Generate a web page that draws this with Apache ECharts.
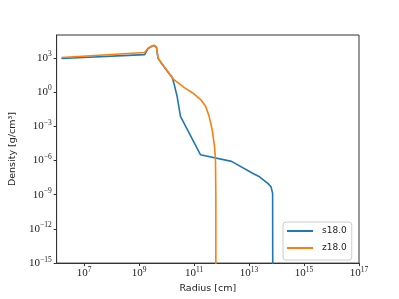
<!DOCTYPE html>
<html>
<head>
<meta charset="utf-8">
<script src="https://cdn.jsdelivr.net/npm/echarts@6/dist/echarts.min.js"></script>
<style>
  html, body { margin: 0; padding: 0; background: #fff; }
  #chart { width: 399px; height: 299px; }
</style>
</head>
<body>
<div id="chart"></div>
<script>
// radius [cm], density [g/cm^3]
const s18 = [
  [1.5e6, 8.7e2], [1.6e9, 1.9e3], [2.1e9, 6.3e3], [2.7e9, 9.3e3], [3.5e9, 1.2e4],
  [4.3e9, 7.9e3], [4.9e9, 8.9e2], [6.5e9, 3.3e2], [1.1e10, 6.0e1], [1.6e10, 1.9e1],
  [1.9e10, 4.6], [2.4e10, 4.5e-1], [3.2e10, 7.2e-3], [1.7e11, 3.2e-6], [2.3e12, 8.3e-7],
  [1.4e13, 7.2e-8], [2.4e13, 3.7e-8], [4.8e13, 9.8e-9], [6.3e13, 5.0e-9], [7.2e13, 1.3e-9],
  [7.3e13, 1e-18]
]
const z18 = [
  [1.5e6, 1.07e3], [1.6e9, 2.9e3], [2.1e9, 7.1e3], [2.7e9, 9.8e3], [3.5e9, 1.3e4],
  [4.3e9, 8.5e3], [4.9e9, 9.5e2], [6.5e9, 3.5e2], [1.1e10, 6.6e1], [1.8e10, 1.26e1],
  [4.4e10, 2.4], [8.7e10, 8.7e-1], [1.7e11, 2.3e-1], [2.6e11, 6.0e-2], [3.5e11, 8.1e-3],
  [4.5e11, 5.8e-4], [5.5e11, 2.0e-5], [6.0e11, 1.4e-6], [6.2e11, 5e-10], [6.2e11, 1e-18]
]
const seriesNames = ['s18.0', 'z18.0']
const xTicks = [1e7, 1e9, 1e11, 1e13, 1e15, 1e17]
const yTicks = [1e-15, 1e-12, 1e-9, 1e-6, 1e-3, 1e0, 1e3]

const tickFont = 'Liberation Serif'
const sansFont = 'DejaVu Sans'

function powLabel(v) {
  const e = Math.round(Math.log10(v))
  return '{b|10}{e|' + String(e).replace('-', '\u2212') + '}'
}

const labelRich = {
  b: { fontFamily: tickFont, fontSize: 11, color: '#222' },
  e: { fontFamily: tickFont, fontSize: 7.5, color: '#222', padding: [0, 0, 7, 0] }
}

const chart = echarts.init(document.getElementById('chart'))
chart.setOption({
  animation: false,
  grid: {
    left: 50, right: 40, top: 35, bottom: 33,
    show: true, borderColor: '#333', borderWidth: 1
  },
  legend: {
    data: seriesNames,
    orient: 'vertical',
    left: 283, top: 222,
    icon: 'rect',
    itemWidth: 26, itemHeight: 2,
    itemGap: 5,
    padding: [3, 5, 6, 4],
    backgroundColor: 'rgba(255,255,255,0.8)',
    borderColor: '#ccc', borderWidth: 1, borderRadius: 3,
    textStyle: { fontFamily: sansFont, fontSize: 9, color: '#222', lineHeight: 12, padding: [0, 0, 0, 4] }
  },
  xAxis: {
    type: 'log', logBase: 10, min: 1e6, max: 1e17,
    name: 'Radius [cm]', nameLocation: 'middle', nameGap: 16,
    nameTextStyle: { fontFamily: sansFont, fontSize: 9.5, color: '#222' },
    axisLine: { show: true, lineStyle: { color: '#333', width: 1 } },
    axisTick: { show: true, length: 3, customValues: xTicks, lineStyle: { color: '#333' } },
    axisLabel: { customValues: xTicks, margin: 3, formatter: powLabel, rich: labelRich },
    splitLine: { show: false },
    minorTick: { show: false }
  },
  yAxis: {
    type: 'log', logBase: 10, min: 1e-15, max: 1e5,
    name: 'Density [g/cm\u00b3]', nameLocation: 'middle', nameGap: 38,
    nameTextStyle: { fontFamily: sansFont, fontSize: 9.5, color: '#222' },
    axisLine: { show: true, lineStyle: { color: '#333', width: 1 } },
    axisTick: { show: true, length: 3, customValues: yTicks, lineStyle: { color: '#333' } },
    axisLabel: { customValues: yTicks, margin: 5, formatter: powLabel, rich: labelRich },
    splitLine: { show: false },
    minorTick: { show: false }
  },
  series: [
    {
      name: seriesNames[0], type: 'line', data: s18,
      symbol: 'none', clip: true,
      itemStyle: { color: '#1f77b4' },
      lineStyle: { color: '#1f77b4', width: 1.6 }
    },
    {
      name: seriesNames[1], type: 'line', data: z18,
      symbol: 'none', clip: true,
      itemStyle: { color: '#ff7f0e' },
      lineStyle: { color: '#ff7f0e', width: 1.6 }
    }
  ]
})
</script>
</body>
</html>
